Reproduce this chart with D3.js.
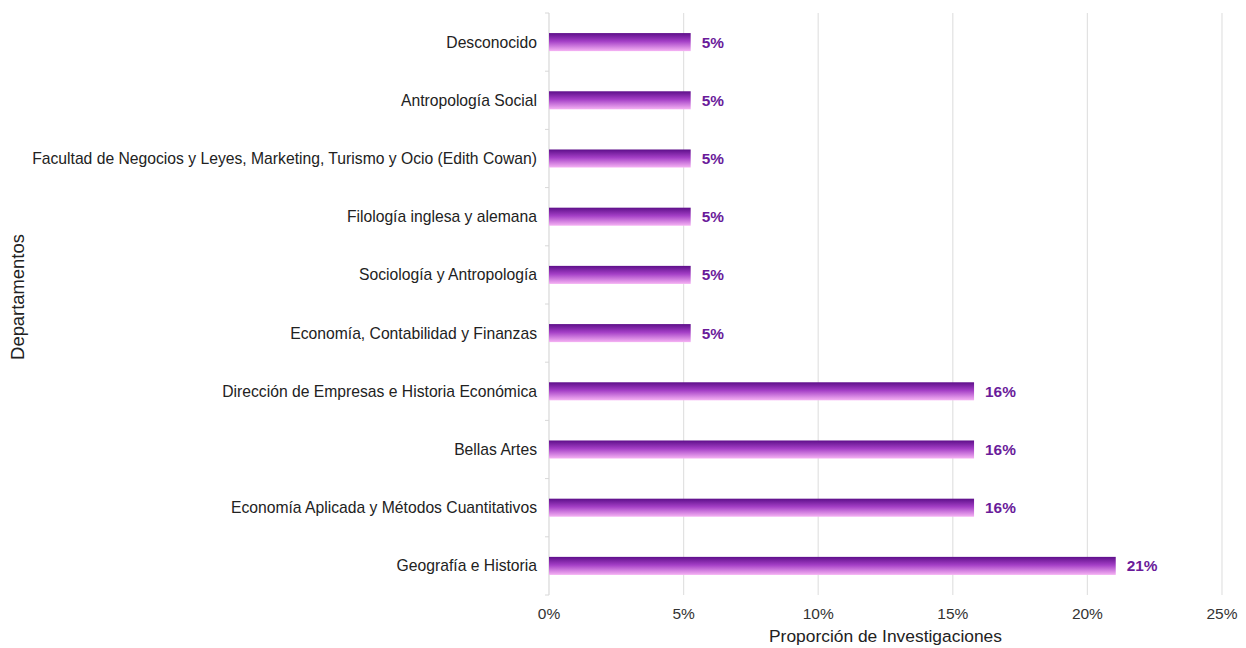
<!DOCTYPE html>
<html>
<head>
<meta charset="utf-8">
<script src="https://cdn.jsdelivr.net/npm/d3@7"></script>
<style>
  html, body { margin: 0; padding: 0; background: #fff; }
  svg { display: block; font-family: "Liberation Sans", Arial, Helvetica, sans-serif; }
</style>
</head>
<body>
<svg id="chart" width="1246" height="648"></svg>
<script>
// Departments, top to bottom
const departamentos = [
  "Desconocido",
  "Antropología Social",
  "Facultad de Negocios y Leyes, Marketing, Turismo y Ocio (Edith Cowan)",
  "Filología inglesa y alemana",
  "Sociología y Antropología",
  "Economía, Contabilidad y Finanzas",
  "Dirección de Empresas e Historia Económica",
  "Bellas Artes",
  "Economía Aplicada y Métodos Cuantitativos",
  "Geografía e Historia"
];
// Share of research projects per department (19 projects in total)
const proporciones = [1/19, 1/19, 1/19, 1/19, 1/19, 1/19, 3/19, 3/19, 3/19, 4/19];
const xTicks = [0, 0.05, 0.10, 0.15, 0.20, 0.25];

const svg = d3.select("#chart");
const margin = { top: 13, right: 24, bottom: 53, left: 549 };
const height = 648 - margin.top - margin.bottom;

const g = svg.append("g").attr("transform", `translate(${margin.left},${margin.top})`);

const x = d3.scaleLinear().domain([0, 0.25]).range([0, 673]);
const y = d3.scaleBand().domain(departamentos).range([0, height]).paddingInner(0.69).paddingOuter(0.345);

// Vertical bar gradient: dark purple on top, pale orchid at the bottom
const defs = svg.append("defs");
const grad = defs.append("linearGradient")
  .attr("id", "barGrad").attr("x1", 0).attr("y1", 0).attr("x2", 0).attr("y2", 1);
grad.append("stop").attr("offset", "0%").attr("stop-color", "#5e0f8a");
grad.append("stop").attr("offset", "45%").attr("stop-color", "#a43fc6");
grad.append("stop").attr("offset", "100%").attr("stop-color", "#f6b3f4");

// Gridlines
g.append("g").selectAll("line")
  .data(xTicks.slice(1))
  .join("line")
  .attr("x1", d => x(d)).attr("x2", d => x(d))
  .attr("y1", 0).attr("y2", height)
  .attr("stroke", "#e2e2e2").attr("stroke-width", 1.2);

// Y axis line with ticks at band boundaries
g.append("line")
  .attr("x1", 0).attr("x2", 0).attr("y1", 0).attr("y2", height)
  .attr("stroke", "#d8d8d8").attr("stroke-width", 1.2);
const bounds = d3.range(departamentos.length + 1).map(i => i * height / departamentos.length);
g.append("g").selectAll("line")
  .data(bounds)
  .join("line")
  .attr("x1", -4).attr("x2", 0)
  .attr("y1", d => d).attr("y2", d => d)
  .attr("stroke", "#d8d8d8").attr("stroke-width", 1);

// Category labels
g.append("g").selectAll("text")
  .data(departamentos)
  .join("text")
  .attr("x", -12)
  .attr("y", d => y(d) + y.bandwidth() / 2)
  .attr("dy", "0.35em")
  .attr("text-anchor", "end")
  .attr("font-size", 15.7)
  .attr("fill", "#222")
  .text(d => d);

// Bars
g.append("g").selectAll("rect")
  .data(departamentos)
  .join("rect")
  .attr("x", 0)
  .attr("y", d => y(d))
  .attr("width", (d, i) => x(proporciones[i]))
  .attr("height", y.bandwidth())
  .attr("fill", "url(#barGrad)");

// Value labels
g.append("g").selectAll("text")
  .data(departamentos)
  .join("text")
  .attr("x", (d, i) => x(proporciones[i]) + 11)
  .attr("y", d => y(d) + y.bandwidth() / 2)
  .attr("dy", "0.36em")
  .attr("font-size", 15.4)
  .attr("font-weight", "bold")
  .attr("fill", "#6a1b9a")
  .text((d, i) => d3.format(".0%")(proporciones[i]));

// X axis tick labels
g.append("g").selectAll("text")
  .data(xTicks)
  .join("text")
  .attr("x", d => x(d))
  .attr("y", height + 24)
  .attr("text-anchor", "middle")
  .attr("font-size", 15.5)
  .attr("fill", "#333")
  .text(d => d3.format(".0%")(d));

// Axis titles
svg.append("text")
  .attr("x", margin.left + x(0.125))
  .attr("y", 642)
  .attr("text-anchor", "middle")
  .attr("font-size", 17.4)
  .attr("fill", "#222")
  .text("Proporción de Investigaciones");

svg.append("text")
  .attr("transform", `translate(24,${margin.top + height / 2 - 7}) rotate(-90)`)
  .attr("text-anchor", "middle")
  .attr("font-size", 18.4)
  .attr("fill", "#222")
  .text("Departamentos");
</script>
</body>
</html>
